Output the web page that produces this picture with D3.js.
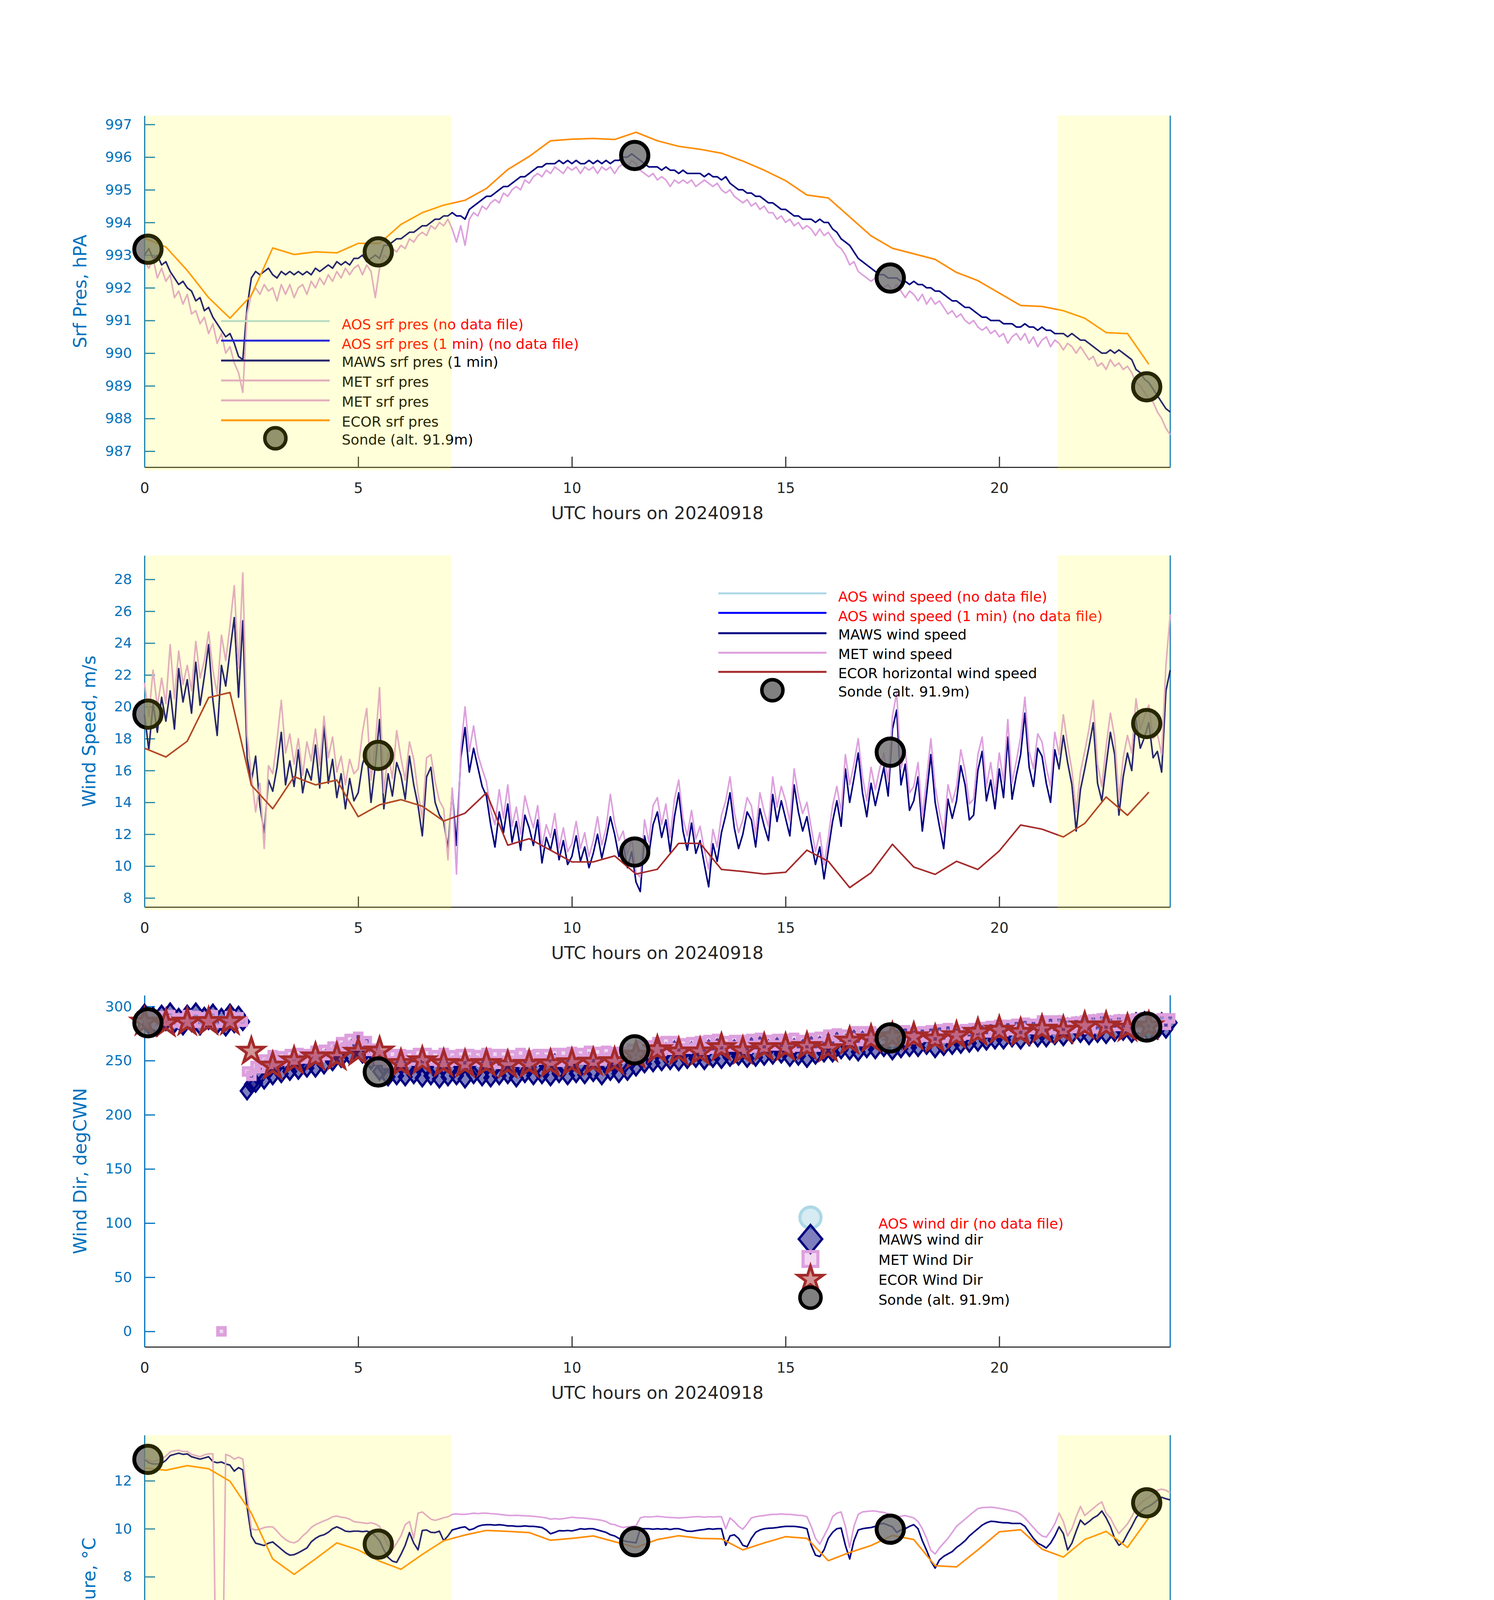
<!DOCTYPE html>
<html>
<head>
<meta charset="utf-8">
<script src="https://cdn.jsdelivr.net/npm/d3@7"></script>
<style>
body { margin: 0; background: #fff; }
svg { display: block; }
</style>
</head>
<body>
<script>
// ---- data (hours UTC on 20240918) ----
var step = 0.1;        // 1-min style series, read every 6 min
var ecorStep = 0.5;    // ECOR 30-min averages
var sondeTime = [0.08, 5.47, 11.47, 17.45, 23.45];
var nightSpans = [[0, 7.18], [21.37, 24]];
var hourTicks = [0, 5, 10, 15, 20];

// surface pressure, hPa
var mawsPres = [
  993.0, 993.2, 992.9, 993.0, 992.7, 992.8, 992.5, 992.3, 992.1, 992.2,
  992.0, 991.9, 991.6, 991.7, 991.3, 991.4, 991.1, 990.9, 990.7, 990.5,
  990.6, 990.3, 989.9, 989.8, 991.4, 992.3, 992.5, 992.4, 992.5, 992.6,
  992.4, 992.3, 992.5, 992.4, 992.5, 992.4, 992.5, 992.4, 992.5, 992.4,
  992.6, 992.5, 992.6, 992.7, 992.6, 992.8, 992.7, 992.8, 992.7, 992.9,
  992.9, 993.0, 992.8, 992.9, 993.0, 992.9, 993.3, 993.3, 993.4, 993.5,
  993.5, 993.6, 993.7, 993.7, 993.8, 993.9, 993.9, 994.0, 994.1, 994.1,
  994.2, 994.2, 994.3, 994.2, 994.2, 994.1, 994.4, 994.5, 994.6, 994.7,
  994.8, 994.8, 994.9, 995.0, 995.1, 995.1, 995.2, 995.3, 995.4, 995.4,
  995.5, 995.6, 995.7, 995.7, 995.8, 995.8, 995.8, 995.9, 995.8, 995.9,
  995.8, 995.9, 995.8, 995.8, 995.9, 995.8, 995.9, 995.8, 995.9, 995.8,
  995.9, 995.9, 996.0, 996.0, 996.1, 996.0, 995.9, 995.8, 995.7, 995.7,
  995.7, 995.6, 995.7, 995.6, 995.6, 995.5, 995.6, 995.5, 995.5, 995.5,
  995.5, 995.4, 995.5, 995.4, 995.4, 995.3, 995.4, 995.2, 995.1, 995.0,
  995.0, 994.9, 994.9, 994.8, 994.8, 994.7, 994.6, 994.6, 994.5, 994.4,
  994.4, 994.3, 994.2, 994.2, 994.1, 994.1, 994.1, 994.0, 994.1, 994.0,
  994.0, 993.8, 993.7, 993.5, 993.4, 993.3, 993.1, 992.9, 992.8, 992.7,
  992.6, 992.5, 992.4, 992.4, 992.3, 992.3, 992.3, 992.2, 992.2, 992.1,
  992.2, 992.1, 992.1, 992.0, 992.0, 991.9, 991.9, 991.8, 991.7, 991.6,
  991.6, 991.5, 991.4, 991.4, 991.3, 991.2, 991.1, 991.1, 991.0, 991.0,
  991.0, 990.9, 990.9, 990.9, 990.8, 990.8, 990.9, 990.8, 990.8, 990.7,
  990.8, 990.7, 990.7, 990.6, 990.6, 990.6, 990.5, 990.6, 990.5, 990.4,
  990.4, 990.3, 990.2, 990.1, 990.0, 990.0, 990.1, 990.0, 990.1, 990.0,
  989.9, 989.8, 989.5, 989.4, 989.2, 989.1, 988.9, 988.7, 988.5, 988.3,
  988.2];
var metPres = [
  992.8, 992.6, 992.9, 992.3, 992.6, 992.2, 992.4, 991.7, 991.9, 991.5,
  991.8, 991.2, 991.3, 990.9, 991.1, 990.6, 990.9, 990.3, 990.6, 990.0,
  990.2, 989.7, 989.4, 988.8, 991.2, 991.8, 992.0, 991.8, 992.1, 991.9,
  992.0, 991.6, 992.1, 991.8, 992.1, 991.7, 992.0, 992.1, 991.8, 992.2,
  992.0, 992.3, 992.1, 992.4, 992.2, 992.5, 992.3, 992.6, 992.4, 992.6,
  992.7, 992.4, 992.7, 992.5, 991.7, 992.6, 993.0, 992.9, 993.2, 993.1,
  993.3, 993.2, 993.5, 993.4, 993.6, 993.7, 993.6, 993.9, 993.8, 994.0,
  993.9, 994.1, 993.8, 993.4, 993.9, 993.3, 994.1, 994.3, 994.2, 994.5,
  994.4, 994.6, 994.7, 994.6, 994.9, 994.8, 995.0, 995.1, 995.0, 995.3,
  995.2, 995.4, 995.5, 995.4, 995.6, 995.5, 995.7, 995.6, 995.5, 995.7,
  995.6, 995.7, 995.5, 995.7, 995.6, 995.7, 995.5, 995.7, 995.6, 995.7,
  995.5, 995.7, 995.8, 995.7, 995.9, 995.8, 995.6, 995.5, 995.4, 995.5,
  995.3, 995.4, 995.3, 995.1, 995.3, 995.2, 995.3, 995.2, 995.3, 995.1,
  995.2, 995.3, 995.2, 995.1, 995.2, 995.0, 994.9, 995.0, 994.8, 994.7,
  994.6, 994.7, 994.5, 994.6, 994.4, 994.5, 994.3, 994.3, 994.1, 994.2,
  994.0, 994.1, 993.9, 994.0, 993.8, 993.9, 993.8, 993.6, 993.8, 993.6,
  993.7, 993.5, 993.3, 993.2, 993.0, 992.7, 992.8, 992.5, 992.4, 992.3,
  992.2, 992.3, 992.1, 992.0, 992.1, 991.9, 992.1, 991.9, 991.7, 991.9,
  991.8, 991.6, 991.8, 991.5, 991.7, 991.5, 991.6, 991.4, 991.2, 991.3,
  991.1, 991.2, 991.0, 990.9, 991.0, 990.8, 990.7, 990.8, 990.6, 990.7,
  990.5, 990.6, 990.3, 990.5, 990.6, 990.4, 990.6, 990.3, 990.5, 990.2,
  990.4, 990.5, 990.2, 990.4, 990.3, 990.1, 990.3, 990.2, 990.0, 990.2,
  990.0, 989.8, 989.9, 989.6, 989.7, 989.5, 989.8, 989.6, 989.7, 989.5,
  989.6, 989.4, 989.1, 989.0, 988.8, 988.6, 988.5, 988.2, 988.0, 987.7,
  987.5];
var ecorPres = [
  993.52, 993.25, 992.53, 991.7, 991.07, 991.77, 993.22, 993.02, 993.1, 993.07,
  993.36, 993.36, 993.94, 994.3, 994.53, 994.68, 995.04, 995.62, 996.02, 996.5,
  996.55, 996.57, 996.54, 996.76, 996.5, 996.33, 996.24, 996.12, 995.88, 995.6,
  995.28, 994.84, 994.75, 994.17, 993.59, 993.21, 993.04, 992.87, 992.47, 992.22,
  991.84, 991.46, 991.43, 991.3, 991.07, 990.63, 990.6, 989.66];
var sondePres = [993.18, 993.1, 996.05, 992.3, 988.97];

// wind speed, m/s
var mawsWind = [
  19.5, 17.3, 20.2, 18.4, 20.6, 19.1, 21.0, 18.6, 22.4, 20.3,
  21.7, 19.6, 22.8, 20.1, 21.9, 23.9, 20.4, 18.2, 22.6, 21.3,
  23.5, 25.6, 20.6, 25.4, 16.8, 15.3, 16.9, 13.8, 12.1, 15.4,
  14.7, 16.2, 18.4, 15.1, 16.6, 15.0, 17.3, 14.6, 16.1, 15.4,
  17.6, 14.9, 18.9, 15.2, 16.7, 14.3, 15.8, 13.6, 15.5, 14.1,
  14.6, 16.4, 17.2, 14.0, 16.3, 19.2, 13.6, 15.8, 14.4, 16.5,
  15.7, 14.2, 16.9, 15.1, 13.8, 11.9, 15.6, 16.2, 14.0, 13.2,
  12.8, 11.1, 14.7, 11.3, 16.8, 18.7, 15.9, 17.4, 16.2, 15.0,
  14.4, 12.6, 11.2, 13.4, 12.1, 13.9, 11.5, 12.8, 11.0, 13.2,
  12.4, 11.3, 12.9, 10.2, 11.8, 11.0, 12.3, 10.4, 11.6, 10.1,
  10.6, 11.9, 10.3, 11.2, 9.9, 10.8, 12.0, 10.5, 11.7, 13.1,
  12.0, 10.6, 11.4, 9.9, 10.9, 9.0, 8.4, 11.9, 10.7, 12.6,
  13.4, 11.8, 12.9, 10.9, 13.1, 14.6, 12.2, 11.0, 12.7, 10.8,
  11.6, 10.1, 8.7, 11.4, 10.3, 12.1, 13.2, 14.6, 12.4, 11.1,
  12.0, 13.4, 12.9, 11.2, 13.6, 12.5, 11.6, 14.5, 12.8, 14.1,
  13.0, 11.9, 15.1, 13.4, 12.2, 13.1, 11.5, 10.1, 11.2, 9.2,
  11.0, 12.8, 14.1, 12.5, 16.1, 14.0, 15.5, 17.1, 14.6, 13.1,
  15.2, 13.8, 15.0, 16.2, 14.4, 18.6, 19.8, 15.1, 16.4, 13.5,
  14.1, 15.6, 12.2, 14.5, 17.0, 14.0, 12.5, 11.1, 14.2, 13.0,
  14.1, 16.3, 15.1, 12.9, 13.2, 16.0, 17.2, 14.1, 15.4, 13.6,
  16.1, 14.3, 18.1, 14.2, 15.7, 17.0, 19.6, 16.2, 15.0, 17.4,
  16.9, 15.2, 14.0, 17.3, 16.1, 18.2, 16.5, 15.1, 12.2, 14.8,
  16.1, 17.5, 19.0, 15.2, 14.1, 16.3, 18.4, 17.0, 13.2, 15.6,
  17.1, 16.0, 19.2, 17.4, 18.1, 19.0, 16.8, 17.2, 15.9, 21.0,
  22.3];
var metWind = [
  21.5, 19.4, 22.3, 20.0, 21.8, 20.2, 23.9, 20.5, 23.5, 21.4,
  22.6, 21.0, 24.1, 21.8, 22.9, 24.7, 22.3, 20.8, 24.5, 22.9,
  25.1, 27.6, 22.4, 28.4, 18.2, 15.7, 13.4, 15.2, 11.1, 16.3,
  15.8, 17.9, 20.4, 17.1, 18.3, 16.4, 18.0, 15.7, 17.8, 16.6,
  18.6, 16.3, 19.4, 16.8, 18.1, 15.9, 16.9, 15.1, 16.7, 15.8,
  16.1, 18.4, 19.9, 15.4, 17.6, 21.2, 14.6, 17.1, 15.5, 18.5,
  16.8, 15.4, 17.8, 16.7, 14.6, 13.0, 16.8, 17.0, 15.3, 14.1,
  13.6, 10.4, 14.9, 9.5, 17.3, 20.0, 17.2, 18.8, 17.0, 16.1,
  15.3, 13.5, 12.6, 14.8, 13.0, 15.1, 12.5, 13.7, 12.0, 14.4,
  13.3, 12.4, 13.8, 11.2, 12.6, 11.8, 13.3, 11.1, 12.4, 10.9,
  11.4, 12.8, 11.1, 12.1, 10.6, 11.6, 13.1, 11.3, 12.4, 14.5,
  12.7, 11.6, 12.2, 10.7, 11.8, 9.6, 9.3, 12.9, 11.5, 13.8,
  14.3, 12.6, 13.9, 11.8, 14.2, 15.4, 13.0, 11.9, 13.5, 11.7,
  12.5, 11.0, 9.8, 12.3, 11.2, 13.2, 14.1, 15.6, 13.4, 12.1,
  12.9, 14.3, 13.8, 12.0, 14.6, 13.4, 12.5, 15.6, 13.7, 15.0,
  14.1, 12.8, 16.1, 14.4, 13.3, 14.0, 12.4, 10.9, 12.1, 10.1,
  11.8, 13.8, 15.0, 13.4, 17.0, 15.1, 16.4, 18.0, 15.6, 14.1,
  16.2, 14.8, 16.1, 17.1, 15.3, 19.4, 20.9, 16.1, 17.3, 14.6,
  15.0, 16.5, 13.1, 15.5, 18.0, 15.0, 13.4, 12.1, 15.1, 14.0,
  15.0, 17.3, 16.0, 13.9, 14.2, 17.0, 18.1, 15.0, 16.5, 14.5,
  17.1, 15.3, 19.2, 15.2, 16.6, 18.1, 20.6, 17.2, 16.1, 18.3,
  17.8, 16.2, 15.0, 18.4, 17.0, 19.5, 17.6, 16.0, 13.4, 15.9,
  17.2, 18.6, 20.4, 16.4, 15.0, 17.5, 19.6, 18.1, 14.2, 16.8,
  18.2, 17.1, 20.5, 18.6, 19.4, 20.1, 18.0, 18.3, 17.0, 22.6,
  25.8];
var ecorWind = [
  17.4, 16.85, 17.84, 20.58, 20.9, 15.08, 13.6, 15.62, 15.1, 15.4,
  13.1, 13.85, 14.17, 13.76, 12.83, 13.32, 14.6, 11.31, 11.72, 11.0,
  10.26, 10.26, 10.64, 9.5, 9.8, 11.43, 11.43, 9.79, 9.66, 9.5,
  9.61, 11.0, 10.3, 8.65, 9.58, 11.37, 9.94, 9.48, 10.3, 9.79,
  10.95, 12.58, 12.32, 11.83, 12.68, 14.34, 13.19, 14.64];
var sondeWind = [19.54, 16.95, 10.88, 17.15, 18.95];

// wind direction, deg clockwise from north
var mawsDir = [
  294, 283, 291, 281, 293, 286, 295, 284, 290, 282,
  293, 285, 295, 282, 291, 287, 294, 283, 290, 281,
  294, 284, 292, 286, 222, 228, 229, 236, 232, 241,
  236, 245, 238, 248, 240, 250, 241, 247, 243, 251,
  243, 253, 246, 255, 249, 259, 252, 261, 255, 264,
  266, 256, 262, 250, 254, 240, 244, 235, 243, 236,
  246, 235, 243, 237, 246, 234, 244, 236, 242, 233,
  245, 235, 243, 236, 244, 233, 246, 237, 242, 235,
  246, 234, 244, 236, 245, 237, 243, 234, 246, 238,
  244, 236, 246, 237, 245, 235, 248, 238, 245, 236,
  247, 238, 246, 237, 249, 239, 247, 236, 248, 240,
  246, 238, 245, 240, 250, 244, 254, 247, 255, 248,
  259, 249, 258, 250, 260, 249, 257, 251, 259, 252,
  260, 250, 261, 252, 262, 251, 259, 253, 261, 254,
  262, 252, 263, 253, 264, 254, 261, 255, 263, 256,
  263, 253, 262, 254, 261, 252, 264, 255, 264, 257,
  267, 257, 268, 260, 266, 259, 270, 258, 269, 261,
  271, 260, 268, 262, 270, 259, 271, 261, 272, 262,
  270, 262, 271, 264, 272, 261, 273, 263, 274, 264,
  272, 265, 273, 266, 275, 267, 274, 268, 276, 269,
  278, 269, 277, 271, 279, 269, 280, 272, 279, 271,
  282, 271, 281, 273, 283, 272, 281, 274, 282, 275,
  283, 273, 284, 275, 285, 274, 283, 276, 284, 277,
  285, 275, 286, 277, 287, 276, 285, 278, 286, 279,
  285];
var metDir = [
  292, 285, 290, 284, 291, 287, 292, 285, 289, 284,
  292, 286, 291, 285, 290, 287, 292, 285, 0, 286,
  291, 285, 290, 286, 240, 236, 245, 243, 251, 247,
  255, 249, 254, 250, 256, 251, 257, 252, 256, 253,
  259, 253, 260, 255, 263, 259, 267, 262, 270, 264,
  272, 264, 268, 259, 261, 251, 255, 248, 256, 249,
  256, 249, 255, 250, 257, 249, 257, 250, 255, 249,
  257, 249, 255, 250, 256, 248, 256, 250, 255, 249,
  257, 248, 256, 247, 256, 250, 255, 249, 257, 249,
  255, 250, 256, 251, 256, 250, 257, 249, 257, 250,
  258, 252, 257, 251, 259, 250, 258, 250, 259, 253,
  258, 252, 258, 253, 261, 256, 264, 258, 264, 259,
  267, 259, 268, 260, 268, 260, 266, 261, 267, 262,
  268, 260, 269, 261, 270, 262, 268, 263, 269, 263,
  269, 261, 270, 262, 271, 263, 269, 264, 270, 264,
  270, 262, 271, 263, 269, 263, 271, 263, 272, 266,
  274, 266, 275, 269, 274, 269, 277, 268, 277, 269,
  277, 269, 275, 270, 276, 268, 277, 269, 278, 270,
  276, 271, 277, 272, 278, 270, 279, 271, 280, 272,
  278, 273, 279, 274, 280, 275, 281, 276, 282, 276,
  283, 277, 283, 278, 284, 276, 285, 279, 284, 279,
  287, 278, 287, 279, 287, 279, 285, 280, 286, 281,
  287, 279, 288, 280, 289, 281, 287, 282, 288, 282,
  288, 280, 289, 281, 290, 282, 288, 283, 289, 283,
  289];
var ecorDir = [
  285.5, 284.3, 285.5, 286, 286, 258.6, 244.9, 249.8, 253.4, 253.4,
  257.6, 258.8, 247.3, 249.8, 247.3, 246.7, 247.3, 246, 246.5, 247,
  248, 248.5, 249, 255, 260, 258, 258, 262, 259, 262,
  262, 263, 261, 268, 270, 272, 272, 270, 273, 276,
  278, 276, 279, 278, 282, 282, 280, 282];
var sondeDir = [285, 239.5, 260, 271, 281];

// surface air temperature, degC
var mawsTemp = [
  12.9, 12.75, 12.7, 12.7, 12.72, 12.85, 13.05, 13.1, 13.15, 13.1,
  13.12, 13.0, 12.95, 12.9, 12.95, 13.0, 12.8, 12.75, 12.78, 12.7,
  12.65, 12.4, 12.55, 12.45, 10.9, 9.7, 9.4, 9.35, 9.3, 9.4,
  9.45, 9.3, 9.15, 9.0, 8.9, 8.92, 9.0, 9.1, 9.2, 9.45,
  9.6, 9.7, 9.75, 9.85, 10.0, 10.08, 10.0, 9.9, 9.88, 9.9,
  9.9, 9.88, 9.9, 9.85, 9.7, 9.5, 9.12, 8.8, 8.65, 8.6,
  8.93, 9.31, 9.84, 9.4, 9.12, 9.93, 9.95, 9.85, 9.84, 9.9,
  9.5, 9.7, 9.95, 10.0, 10.05, 10.08, 9.95, 10.0, 10.1, 10.15,
  10.17, 10.17, 10.15, 10.17, 10.15, 10.12, 10.12, 10.1, 10.1, 10.12,
  10.1, 10.1, 10.08, 10.05, 9.95, 9.79, 9.85, 9.92, 9.91, 9.93,
  9.91, 9.95, 10.0, 9.98, 10.0, 10.0, 9.95, 9.9, 9.85, 9.75,
  9.7, 9.6, 9.5, 9.46, 9.44, 9.41, 10.0, 10.0, 10.0, 9.98,
  10.0, 9.98, 10.0, 9.97, 10.0, 10.0, 9.95, 9.9, 9.89, 9.92,
  9.95, 9.97, 10.0, 9.98, 10.0, 10.0, 9.31, 9.7, 9.75, 9.6,
  9.31, 9.25, 9.6, 9.85, 9.95, 10.0, 10.02, 10.03, 10.05, 10.08,
  10.1, 10.1, 10.1, 10.08, 10.05, 10.0, 9.31, 8.9, 8.84, 9.12,
  9.6, 9.85, 10.0, 10.03, 9.31, 8.74, 9.5, 9.95, 10.0, 10.03,
  10.05, 10.1, 10.2, 10.22, 10.15, 10.08, 9.85, 9.95, 10.0, 10.1,
  10.17, 10.0, 9.5, 9.1, 8.65, 8.36, 8.7, 8.85, 8.95, 9.05,
  9.22, 9.35, 9.5, 9.7, 9.85, 10.0, 10.15, 10.25, 10.31, 10.3,
  10.27, 10.25, 10.25, 10.22, 10.22, 10.22, 10.1, 9.85, 9.6, 9.4,
  9.31, 9.2, 9.4, 9.7, 10.08, 9.8, 9.12, 9.4, 9.9, 10.36,
  10.17, 10.3, 10.45, 10.55, 10.74, 10.46, 10.1, 9.6, 9.31, 9.45,
  9.79, 10.1, 10.45, 10.7, 10.85, 10.93, 11.05, 11.2, 11.31, 11.25,
  11.2];
var metTemp = [
  12.93, 12.85, 12.8, 12.85, 12.9, 13.03, 13.2, 13.25, 13.27, 13.22,
  13.22, 13.1, 13.05, 13.0, 13.08, 13.12, 13.12, 0, 0, 13.1,
  13.03, 12.9, 12.98, 12.9, 11.4, 10.0, 9.95, 9.98, 10.05, 10.08,
  10.08, 9.9, 9.7, 9.55, 9.45, 9.41, 9.5, 9.7, 9.85, 10.05,
  10.17, 10.25, 10.33, 10.4, 10.5, 10.53, 10.48, 10.46, 10.4, 10.3,
  10.27, 10.25, 10.22, 10.25, 10.2, 10.1, 9.7, 9.3, 9.12, 9.4,
  9.7, 10.17, 10.3, 9.6, 10.65, 10.7, 10.55, 10.4, 10.35, 10.4,
  10.46, 10.5, 10.6, 10.62, 10.6, 10.6, 10.62, 10.65, 10.63, 10.65,
  10.65, 10.63, 10.62, 10.6, 10.58, 10.56, 10.55, 10.56, 10.55, 10.54,
  10.53, 10.52, 10.5, 10.48, 10.45, 10.4, 10.42, 10.4, 10.42, 10.45,
  10.48, 10.46, 10.45, 10.44, 10.42, 10.4, 10.38, 10.35, 10.3, 10.2,
  10.17, 10.1, 10.05, 10.08, 10.1, 10.12, 10.45, 10.5, 10.49, 10.5,
  10.52, 10.5, 10.48, 10.47, 10.46, 10.45, 10.46, 10.47, 10.49, 10.5,
  10.5, 10.48, 10.5, 10.49, 10.5, 10.5, 10.0, 10.45, 10.3, 10.1,
  9.98, 10.2, 10.45, 10.5, 10.53, 10.55, 10.58, 10.6, 10.6, 10.62,
  10.6, 10.6, 10.58, 10.56, 10.55, 10.5, 10.1, 9.6, 9.36, 9.7,
  10.05, 10.5, 10.65, 10.7, 10.1, 9.22, 10.1, 10.6, 10.7, 10.72,
  10.74, 10.74, 10.7, 10.68, 10.62, 10.55, 10.5, 10.52, 10.55, 10.5,
  10.45, 10.3, 10.0, 9.6, 9.1, 8.95, 9.2, 9.4, 9.6, 9.85,
  10.1, 10.25, 10.4, 10.55, 10.7, 10.84, 10.88, 10.89, 10.9, 10.88,
  10.85, 10.82, 10.78, 10.74, 10.7, 10.6, 10.45, 10.25, 10.05, 9.85,
  9.7, 9.65, 9.9, 10.2, 10.65, 10.3, 9.7, 10.0, 10.5, 10.93,
  10.55, 10.7, 10.85, 11.0, 11.12, 10.65, 10.45, 10.1, 9.8, 10.0,
  10.2, 10.5, 10.85, 11.05, 11.2, 11.31, 11.45, 11.6, 11.65, 11.6,
  11.5];
var ecorTemp = [
  12.53, 12.44, 12.63, 12.5, 11.98, 10.65, 8.74, 8.1, 8.74, 9.41,
  9.12, 8.65, 8.31, 8.93, 9.5, 9.74, 9.93, 9.89, 9.84, 9.52,
  9.6, 9.7, 9.46, 9.22, 9.55, 9.71, 9.6, 9.58, 9.12, 9.41,
  9.67, 9.6, 8.67, 9.01, 9.3, 9.72, 9.55, 8.46, 8.41, 9.12,
  9.87, 9.96, 9.15, 8.82, 9.55, 9.89, 9.22, 10.46];
var sondeTemp = [12.89, 9.36, 9.46, 9.98, 11.08];

// relative humidity, %
var mawsRH = [
  73.5, 71.5, 74.0, 73.2, 72.5, 71.9, 70.5, 72.0, 72.8, 73.2,
  73.5, 74.2, 74.8, 75.4, 75.8, 76.2, 76.8, 77.0, 77.3, 78.5,
  80.1, 81.0, 80.2, 82.0, 91.0, 92.6, 92.8, 92.5, 92.0, 90.5,
  89.3, 88.5, 88.0, 88.8, 90.0, 90.4, 89.5, 88.3, 87.2, 86.0,
  85.0, 83.5, 82.0, 80.8, 80.3, 80.6, 81.5, 82.0, 82.4, 83.5,
  84.2, 84.0, 83.3, 84.5, 87.0, 89.3, 89.0, 88.5, 88.0, 89.0,
  89.9, 86.8, 86.6, 88.0, 89.9, 87.5, 84.0, 80.5, 79.0, 80.5,
  82.2, 82.5, 80.0, 76.0, 69.2, 64.8, 63.0, 62.2, 63.5, 65.0,
  65.9, 64.0, 63.5, 64.5, 63.0, 62.6, 63.5, 62.8, 64.0, 63.8,
  64.3, 63.2, 62.5, 63.8, 64.2, 64.3, 63.0, 62.5, 63.6, 62.9,
  62.6, 61.0, 59.5, 59.3, 60.5, 61.5, 64.5, 67.5, 68.1, 68.5,
  69.2, 67.0, 65.0, 66.5, 71.3, 72.4, 65.0, 60.5, 59.3, 56.5,
  53.9, 56.5, 59.3, 60.0, 61.5, 62.6, 60.5, 58.3, 57.5, 56.0,
  55.0, 57.5, 59.5, 62.0, 66.0, 68.1, 69.5, 69.2, 70.0, 71.0,
  71.3, 70.0, 68.5, 67.0, 65.0, 63.7, 60.5, 58.0, 57.7, 59.0,
  60.4, 61.5, 62.8, 64.5, 69.0, 73.5, 76.5, 77.9, 77.0, 76.2,
  75.7, 74.0, 72.5, 71.3, 75.7, 79.5, 74.5, 71.0, 68.0, 65.5,
  63.7, 62.5, 62.0, 62.6, 63.5, 63.7, 64.5, 66.0, 67.0, 68.0,
  68.6, 71.0, 74.0, 80.0, 85.5, 89.3, 86.0, 84.0, 83.3, 85.5,
  79.0, 77.5, 76.5, 75.0, 73.0, 71.3, 69.5, 67.5, 66.5, 67.5,
  68.1, 66.0, 64.5, 63.7, 65.0, 67.0, 68.5, 69.0, 70.0, 76.5,
  75.7, 72.5, 70.5, 70.0, 78.4, 78.0, 77.0, 76.0, 72.0, 63.2,
  72.4, 73.0, 73.5, 72.5, 71.0, 69.2, 74.5, 79.0, 80.1, 80.5,
  81.1, 80.0, 75.0, 71.3, 71.0, 71.3, 70.5, 69.5, 69.2, 68.0,
  67.0];
var metRH = [
  14.5, 13.2, 15.0, 12.8, 13.9, 14.6, 12.5, 15.8, 14.1, 16.5,
  13.4, 15.2, 14.0, 12.6, 15.4, 13.1, 19.8, -58.5, 76.5, 77.5,
  78.8, 80.0, 79.0, 81.0, 89.5, 91.5, 91.0, 90.2, 89.8, 88.5,
  87.5, 86.8, 87.0, 87.5, 88.6, 89.0, 88.0, 86.5, 85.5, 84.6,
  83.5, 82.0, 80.5, 78.5, 79.0, 79.5, 80.2, 81.0, 81.5, 82.5,
  83.5, 82.5, 82.0, 82.8, 84.5, 86.0, 87.5, 86.0, 87.0, 88.0,
  87.5, 85.0, 84.5, 85.5, 87.0, 84.5, 81.0, 77.5, 76.5, 78.5,
  80.0, 80.5, 77.5, 73.0, 66.5, 62.5, 60.5, 61.0, 62.5, 63.5,
  64.5, 62.5, 62.0, 63.0, 61.5, 61.0, 62.0, 61.5, 62.5, 62.0,
  63.0, 61.8, 61.0, 62.5, 62.8, 63.0, 61.5, 61.0, 62.2, 61.5,
  61.0, 59.5, 58.0, 57.8, 59.0, 60.2, 63.0, 66.0, 67.0, 67.5,
  68.0, 66.0, 64.0, 65.5, 70.0, 71.0, 64.0, 59.0, 58.0, 55.0,
  52.5, 55.0, 58.0, 59.0, 60.5, 61.5, 59.5, 57.0, 56.5, 55.0,
  54.0, 56.0, 58.5, 61.0, 65.0, 67.0, 68.0, 68.2, 69.0, 69.8,
  70.0, 69.0, 67.5, 65.5, 63.5, 62.5, 59.5, 57.0, 56.5, 58.0,
  59.5, 60.5, 61.5, 63.5, 68.0, 72.0, 75.0, 76.5, 75.5, 75.0,
  74.5, 72.5, 71.0, 70.0, 74.5, 78.0, 73.0, 69.5, 66.5, 64.0,
  62.5, 61.0, 60.5, 61.5, 62.0, 62.5, 63.5, 65.0, 66.0, 67.0,
  67.5, 70.0, 72.5, 78.5, 84.0, 87.5, 84.5, 82.5, 81.5, 83.5,
  77.5, 76.0, 75.0, 73.5, 71.5, 69.5, 68.0, 66.0, 65.0, 66.0,
  66.5, 64.5, 63.0, 62.0, 63.5, 65.5, 67.0, 67.5, 68.5, 75.0,
  74.5, 71.0, 69.0, 68.5, 77.0, 76.5, 75.5, 74.5, 70.5, 62.0,
  71.0, 71.5, 72.0, 71.0, 69.5, 68.0, 73.0, 77.5, 78.5, 79.0,
  79.5, 78.5, 73.5, 70.0, 69.5, 70.0, 69.0, 68.0, 67.5, 66.5,
  65.5];
var rhFlagTime = [1.68, 1.73, 1.78];
var rhFlag = [-51, -59.5, 77];
var sondeRH = [73.5, 89.9, 67.8, 63.7, 70.8];

// precipitable water vapor, mm
var pwv3c = [
  1.79, 1.72, 1.80, 1.84, 1.86, 1.85, 1.90, 1.93, 1.95, 1.97,
  1.96, 2.0, 1.98, 2.02, 1.97, 2.0, 2.05, 2.02, 2.75, 2.02,
  2.12, 2.23, -0.3, 4.42, 3.8, 3.91, 3.65, 3.4, 3.25, 3.55,
  3.8, 4.17, 4.3, 4.24, 4.1, 3.87, 3.7, 3.65, 3.55, 3.45,
  3.29, 3.0, 2.8, 2.6, 2.3, 2.16, 1.97, 2.4, 4.66, 2.6,
  3.25, 4.84, 3.1, 3.07, 3.4, 3.25, 3.62, 3.0, 4.06, 2.8,
  2.45, 3.07, 3.6, 2.52, 2.2, 1.97, 1.7, 1.55, 1.42, 1.3,
  1.17, 1.1, 1.15, 1.02, 0.95, 0.91, 0.93, 0.96, 0.94, 0.97,
  0.95, 0.93, 0.96, 0.94, 0.98, 0.99, 0.95, 0.92, 0.9, 0.93,
  0.88, 0.91, 0.89, 1.05, 0.93, 0.95, 0.92, 0.9, 0.91, 0.87,
  0.88, 0.9, 0.95, 1.1, 0.98, 0.91, 0.86, 0.85, 0.83, 0.85,
  0.84, 0.82, 0.8, 0.78, 0.8, 0.8, 0.77, 0.74, 0.78, 0.82,
  0.8, 0.84, 0.9, 0.85, 0.87, 0.88, 0.86, 0.85, 0.87, 0.9,
  0.88, 0.91, 0.94, 0.97, 0.93, 0.95, 1.0, 1.05, 1.02, 0.98,
  1.02, 1.0, 0.97, 0.95, 0.92, 0.91, 0.86, 0.92, 0.96, 0.99,
  1.02, 1.05, 1.07, 1.1, 1.15, 1.1, 1.04, 1.02, 1.04, 1.03,
  1.02, 1.08, 1.13, 1.15, 1.9, 1.1, 1.12, 1.1, 1.0, 0.92,
  0.91, 0.95, 0.98, 1.0, 1.02, 1.02, 1.0, 1.04, 1.03, 1.06,
  1.32, 1.6, 2.34, 3.62, 3.7, 2.6, 1.6, 1.4, 0.22, 1.53,
  1.39, 1.3, 1.25, 1.21, 1.19, 1.17, 1.16, 1.14, 1.15, 1.13,
  1.13, 1.12, 1.14, 1.13, 1.12, 1.13, 1.14, 1.18, 1.24, 1.2,
  1.24, 1.22, 1.3, 2.45, 1.97, 1.85, 1.72, 1.55, 1.43, 1.35,
  1.28, 1.26, 1.24, 1.27, 1.39, 1.3, 2.74, 1.85, 1.61, 1.45,
  1.32, 1.28, 1.26, 1.24, 1.27, 1.28, 1.3, 1.22, 1.21, 1.25,
  1.61];
var pwv2c = [
  1.77, 1.74, 1.78, 1.82, 1.85, 1.84, 1.88, 1.92, 1.94, 1.96,
  1.95, 1.98, 1.97, 2.0, 1.96, 1.99, 2.04, 2.01, 2.6, 2.0,
  2.1, 2.2, 0.1, 4.2, 3.7, 3.85, 3.6, 3.35, 3.2, 3.5,
  3.75, 4.1, 4.2, 4.2, 4.05, 3.8, 3.6, 3.5, 3.3, 3.05,
  2.8, 2.55, 2.3, 2.05, 1.9, 1.86, 1.85, 1.95, 2.2, 2.5,
  3.1, 3.6, 3.0, 2.95, 3.3, 3.2, 3.45, 2.9, 3.5, 2.7,
  2.35, 2.7, 2.9, 2.3, 2.0, 1.75, 1.5, 1.35, 1.25, 1.18,
  1.1, 1.05, 1.08, 1.0, 0.93, 0.92, 0.94, 0.97, 0.95, 0.98,
  0.96, 0.94, 0.97, 0.95, 0.99, 1.0, 0.96, 0.93, 0.91, 0.94,
  0.89, 0.92, 0.9, 1.02, 0.94, 0.96, 0.93, 0.91, 0.92, 0.88,
  0.89, 0.91, 0.96, 1.08, 0.99, 0.92, 0.87, 0.86, 0.84, 0.86,
  0.85, 0.83, 0.81, 0.79, 0.81, 0.81, 0.78, 0.75, 0.79, 0.83,
  0.81, 0.85, 0.91, 0.86, 0.88, 0.89, 0.87, 0.86, 0.88, 0.91,
  0.89, 0.92, 0.95, 0.98, 0.94, 0.96, 1.01, 1.06, 1.03, 0.99,
  1.3, 1.18, 1.1, 1.02, 0.95, 0.92, 0.87, 0.93, 0.97, 1.0,
  1.03, 1.06, 1.08, 1.11, 1.16, 1.11, 1.05, 1.03, 1.05, 1.04,
  1.03, 1.09, 1.14, 1.16, 1.5, 1.35, 1.2, 1.12, 1.01, 0.93,
  0.92, 0.96, 0.99, 1.01, 1.03, 1.03, 1.01, 1.05, 1.04, 1.07,
  1.3, 1.55, 2.2, 3.4, 3.6, 2.5, 1.6, 1.35, 0.4, 1.5,
  1.4, 1.31, 1.26, 1.22, 1.2, 1.18, 1.17, 1.15, 1.16, 1.14,
  1.14, 1.13, 1.15, 1.14, 1.13, 1.14, 1.15, 1.19, 1.25, 1.21,
  1.25, 1.23, 1.31, 2.3, 1.9, 1.8, 1.68, 1.52, 1.4, 1.33,
  1.27, 1.25, 1.23, 1.26, 1.37, 1.29, 2.6, 1.8, 1.58, 1.43,
  1.31, 1.27, 1.25, 1.23, 1.26, 1.27, 1.29, 1.21, 1.2, 1.24,
  1.58];
var sondePWV = [1.8, 1.64, 0.82, 1.02, 1.3];

// ---- layout ----
var W = 3825, H = 7125;
var plotL = 370, plotR = 2996, plotH = 900;
var panelTop = 296, panelGap = 1126;
var axisBlue = "#0072BD", axisGray = "#333333";
var navy = "#000080", plum = "#DDA0DD", darkorange = "#FF8C00", brown = "#A52A2A";

var x = d3.scaleLinear().domain([0, 24]).range([plotL, plotR]);

var svg = d3.select("body")
    .append("svg")
    .attr("width", W)
    .attr("height", H)
    .style("font-family", "'DejaVu Sans', sans-serif");

svg.append("rect").attr("width", W).attr("height", H).attr("fill", "#fff");

function series(arr, dt) {
    return arr.map(function(v, i) { return [i * dt, v]; });
}
function sondes(vals) {
    return vals.map(function(v, i) { return [sondeTime[i], v]; });
}

// axes, labels and the frame of one panel
function makePanel(idx, domain, ticks, ylabel) {
    var top = panelTop + idx * panelGap;
    var y = d3.scaleLinear().domain(domain).range([top + plotH, top]);
    var g = svg.append("g");

    var xa = g.append("g")
        .attr("transform", "translate(0," + (top + plotH) + ")")
        .call(d3.axisBottom(x).tickValues(hourTicks).tickFormat(d3.format("~g"))
            .tickSize(-27).tickSizeOuter(0).tickPadding(40));
    xa.attr("font-family", null).attr("font-size", null);
    xa.select(".domain").attr("stroke", axisGray).attr("stroke-width", 3);
    xa.selectAll(".tick line").attr("stroke", axisGray).attr("stroke-width", 3);
    xa.selectAll(".tick text").attr("fill", "#262626").style("font-size", "37px");

    var ya = g.append("g")
        .attr("transform", "translate(" + plotL + ",0)")
        .call(d3.axisLeft(y).tickValues(ticks).tickFormat(d3.format("~g"))
            .tickSize(-27).tickSizeOuter(0).tickPadding(32));
    ya.attr("font-family", null).attr("font-size", null);
    ya.select(".domain").attr("stroke", axisBlue).attr("stroke-width", 3);
    ya.selectAll(".tick line").attr("stroke", axisBlue).attr("stroke-width", 3);
    ya.selectAll(".tick text").attr("fill", axisBlue).style("font-size", "36px");

    // right frame line
    g.append("line")
        .attr("x1", plotR).attr("x2", plotR)
        .attr("y1", top).attr("y2", top + plotH)
        .attr("stroke", axisBlue).attr("stroke-width", 3);

    var bb = ya.node().getBBox();
    g.append("text")
        .attr("transform", "translate(" + (plotL + bb.x - 64) + "," + (top + plotH / 2) + ") rotate(-90)")
        .attr("text-anchor", "middle")
        .attr("dominant-baseline", "central")
        .attr("fill", axisBlue)
        .style("font-size", "46px")
        .text(ylabel);

    g.append("text")
        .attr("x", (plotL + plotR) / 2)
        .attr("y", top + plotH + 117)
        .attr("text-anchor", "middle")
        .attr("dominant-baseline", "central")
        .attr("fill", "#262626")
        .style("font-size", "45px")
        .text("UTC hours on 20240918");

    return { g: g, y: y, top: top };
}

function drawLine(p, data, color, width) {
    var line = d3.line()
        .x(function(d) { return x(d[0]); })
        .y(function(d) { return p.y(d[1]); });
    p.g.append("path")
        .datum(data)
        .attr("d", line)
        .attr("fill", "none")
        .attr("stroke", color)
        .attr("stroke-width", width)
        .attr("stroke-linejoin", "round");
}

function drawSondes(p, vals) {
    p.g.selectAll(null)
        .data(sondes(vals))
        .enter()
        .append("circle")
        .attr("cx", function(d) { return x(d[0]); })
        .attr("cy", function(d) { return p.y(d[1]); })
        .attr("r", 35)
        .attr("fill", "#6e6e6e")
        .attr("fill-opacity", 0.8)
        .attr("stroke", "#000")
        .attr("stroke-width", 10);
}

function drawNight(p) {
    nightSpans.forEach(function(s) {
        p.g.append("rect")
            .attr("x", x(s[0]))
            .attr("y", p.top)
            .attr("width", x(s[1]) - x(s[0]))
            .attr("height", plotH + 8)
            .attr("fill", "#ffff00")
            .attr("opacity", 0.15);
    });
}

// line-style legend; rows are [kind, color, label, red?]
function drawLegend(p, x0, x1, tx, dy0, rows) {
    rows.forEach(function(r, i) {
        var yy = p.top + dy0[i];
        if (r[0] == "line") {
            p.g.append("line")
                .attr("x1", x0).attr("x2", x1)
                .attr("y1", yy).attr("y2", yy)
                .attr("stroke", r[1]).attr("stroke-width", 5);
        } else {
            p.g.append("circle")
                .attr("cx", (x0 + x1) / 2).attr("cy", yy)
                .attr("r", 27)
                .attr("fill", "#808080")
                .attr("stroke", "#000")
                .attr("stroke-width", 9);
        }
        p.g.append("text")
            .attr("x", tx)
            .attr("y", yy + (r[3] ? 8 : 3))
            .attr("dominant-baseline", "central")
            .attr("fill", r[3] ? "#ff0000" : "#000")
            .style("font-size", "36px")
            .text(r[2]);
    });
}

// ---- panel 1: surface pressure ----
var p1 = makePanel(0, [986.51, 997.27], d3.range(987, 998, 1), "Srf Pres, hPA");
drawLine(p1, series(mawsPres, step), navy, 4);
drawLine(p1, series(metPres, step), plum, 4);
drawLine(p1, series(ecorPres, ecorStep), darkorange, 4);
drawSondes(p1, sondePres);
drawLegend(p1, 566, 844, 875, [526, 576, 627, 678, 729, 780, 826], [
    ["line", "#ADD8E6", "AOS srf pres (no data file)", true],
    ["line", "#0000FF", "AOS srf pres (1 min) (no data file)", true],
    ["line", navy, "MAWS srf pres (1 min)"],
    ["line", plum, "MET srf pres"],
    ["line", plum, "MET srf pres"],
    ["line", darkorange, "ECOR srf pres"],
    ["sonde", null, "Sonde (alt. 91.9m)"]
]);
drawNight(p1);

// ---- panel 2: wind speed ----
var p2 = makePanel(1, [7.43, 29.5], d3.range(8, 29, 2), "Wind Speed, m/s");
drawLine(p2, series(mawsWind, step), navy, 4);
drawLine(p2, series(metWind, step), plum, 4);
drawLine(p2, series(ecorWind, ecorStep), brown, 4);
drawSondes(p2, sondeWind);
drawLegend(p2, 1839, 2116, 2146, [97, 147, 199, 249, 298, 345], [
    ["line", "#ADD8E6", "AOS wind speed (no data file)", true],
    ["line", "#0000FF", "AOS wind speed (1 min) (no data file)", true],
    ["line", navy, "MAWS wind speed"],
    ["line", plum, "MET wind speed"],
    ["line", brown, "ECOR horizontal wind speed"],
    ["sonde", null, "Sonde (alt. 91.9m)"]
]);
drawNight(p2);

// ---- panel 3: wind direction (markers) ----
function diamondPath(w, h) {
    return "M0," + (-h) + "L" + w + ",0L0," + h + "L" + (-w) + ",0Z";
}
function squarePath(s) {
    return "M" + (-s) + "," + (-s) + "H" + s + "V" + s + "H" + (-s) + "Z";
}
function starPath(R) {
    var pts = [];
    for (var k = 0; k < 10; k++) {
        var a = -Math.PI / 2 + k * Math.PI / 5;
        var rr = k % 2 ? R * 0.382 : R;
        pts.push((rr * Math.cos(a)).toFixed(2) + "," + (rr * Math.sin(a)).toFixed(2));
    }
    return "M" + pts.join("L") + "Z";
}
// plot markers
var markDiamond = { d: diamondPath(16, 21), color: navy, fill: 0.5, sw: 6 };
var markSquare = { d: squarePath(9), color: plum, fill: 0.4, sw: 9 };
var markStar = { d: starPath(34), color: brown, fill: 0.5, sw: 7 };
// legend markers are drawn larger
var legDiamond = { d: diamondPath(30, 36), color: navy, fill: 0.5, sw: 6 };
var legSquare = { d: squarePath(19), color: plum, fill: 0.4, sw: 8 };

function drawMarks(p, data, m) {
    p.g.selectAll(null)
        .data(data)
        .enter()
        .append("path")
        .attr("d", m.d)
        .attr("transform", function(d) { return "translate(" + x(d[0]) + "," + p.y(d[1]) + ")"; })
        .attr("fill", m.color)
        .attr("fill-opacity", m.fill)
        .attr("stroke", m.color)
        .attr("stroke-width", m.sw)
        .attr("stroke-linejoin", "miter");
}

var p3 = makePanel(2, [-14.3, 310.3], d3.range(0, 301, 50), "Wind Dir, degCWN");
drawMarks(p3, series(mawsDir, step), markDiamond);
drawMarks(p3, series(metDir, step), markSquare);
drawMarks(p3, series(ecorDir, ecorStep), markStar);
drawSondes(p3, sondeDir);

// marker legend
var leg3x = 2075, leg3t = 2249;
var leg3mark = [569, 624, 675, 727, 774];
var leg3text = [584, 625, 677, 728, 779];
p3.g.append("circle")
    .attr("cx", leg3x).attr("cy", p3.top + leg3mark[0]).attr("r", 27)
    .attr("fill", "#ADD8E6").attr("fill-opacity", 0.5)
    .attr("stroke", "#ADD8E6").attr("stroke-width", 8);
[legDiamond, legSquare, markStar].forEach(function(m, i) {
    p3.g.append("path")
        .attr("d", m.d)
        .attr("transform", "translate(" + leg3x + "," + (p3.top + leg3mark[i + 1]) + ")")
        .attr("fill", m.color).attr("fill-opacity", m.fill)
        .attr("stroke", m.color).attr("stroke-width", m.sw);
});
p3.g.append("circle")
    .attr("cx", leg3x).attr("cy", p3.top + leg3mark[4]).attr("r", 27)
    .attr("fill", "#808080").attr("stroke", "#000").attr("stroke-width", 9);
["AOS wind dir (no data file)", "MAWS wind dir", "MET Wind Dir", "ECOR Wind Dir", "Sonde (alt. 91.9m)"]
    .forEach(function(t, i) {
        p3.g.append("text")
            .attr("x", leg3t)
            .attr("y", p3.top + leg3text[i])
            .attr("dominant-baseline", "central")
            .attr("fill", i == 0 ? "#ff0000" : "#000")
            .style("font-size", "36px")
            .text(t);
    });

// ---- panel 4: air temperature ----
var p4 = makePanel(3, [-0.75, 13.9], d3.range(0, 13, 2), "Temperature, \u00B0C");
drawLine(p4, series(mawsTemp, step), navy, 4);
drawLine(p4, series(metTemp, step), plum, 4);
drawLine(p4, series(ecorTemp, ecorStep), darkorange, 4);
drawSondes(p4, sondeTemp);
drawLegend(p4, 1904, 2182, 2208, [566, 616, 667, 718, 765], [
    ["line", "#ADD8E6", "AOS srf air temp (no data file)", true],
    ["line", navy, "MAWS srf air temp"],
    ["line", plum, "MET srf air temp"],
    ["line", darkorange, "ECOR srf air temp"],
    ["sonde", null, "Sonde (alt. 91.9m)"]
]);
drawNight(p4);

// ---- panel 5: relative humidity ----
var p5 = makePanel(4, [-67, 101], d3.range(-60, 101, 20), "Relative Humidity, %");
drawLine(p5, series(mawsRH, step), navy, 4);
drawLine(p5, series(metRH, step), plum, 4);
p5.g.selectAll(null)
    .data(rhFlag.map(function(v, i) { return [rhFlagTime[i], v]; }))
    .enter()
    .append("circle")
    .attr("cx", function(d) { return x(d[0]); })
    .attr("cy", function(d) { return p5.y(d[1]); })
    .attr("r", 6)
    .attr("fill", "#ff2000");
drawSondes(p5, sondeRH);
drawLegend(p5, 1912, 2192, 2219, [581, 631, 681, 732, 778], [
    ["line", "#ADD8E6", "AOS RH (no data file)", true],
    ["line", "#0000FF", "AOS RH (1 min) (no data file)", true],
    ["line", navy, "MAWS RH"],
    ["line", plum, "MET RH"],
    ["sonde", null, "Sonde (alt. 91.9m)"]
]);
drawNight(p5);

// ---- panel 6: precipitable water vapor ----
var p6 = makePanel(5, [-0.47, 5.12], d3.range(0, 6, 1), "Precip. Water Vapor, mm");
drawLine(p6, series(pwv2c, step), "#FFA500", 4);
drawLine(p6, series(pwv3c, step), brown, 7);
drawLine(p6, series(pwv3c, step), "#ff1a00", 3);
p6.g.selectAll(null)
    .data(series(pwv3c, step))
    .enter()
    .append("circle")
    .attr("cx", function(d) { return x(d[0]); })
    .attr("cy", function(d) { return p6.y(d[1]); })
    .attr("r", 5)
    .attr("fill", "#ff1a00");
drawSondes(p6, sondePWV);
drawLegend(p6, 1357, 1633, 1661, [70, 122, 168], [
    ["line", "#FFA500", "MWR 2C PWV"],
    ["line", brown, "MWR 3C PWV"],
    ["sonde", null, "Sonde (alt. 91.9m)"]
]);
drawNight(p6);
</script>
</body>
</html>
